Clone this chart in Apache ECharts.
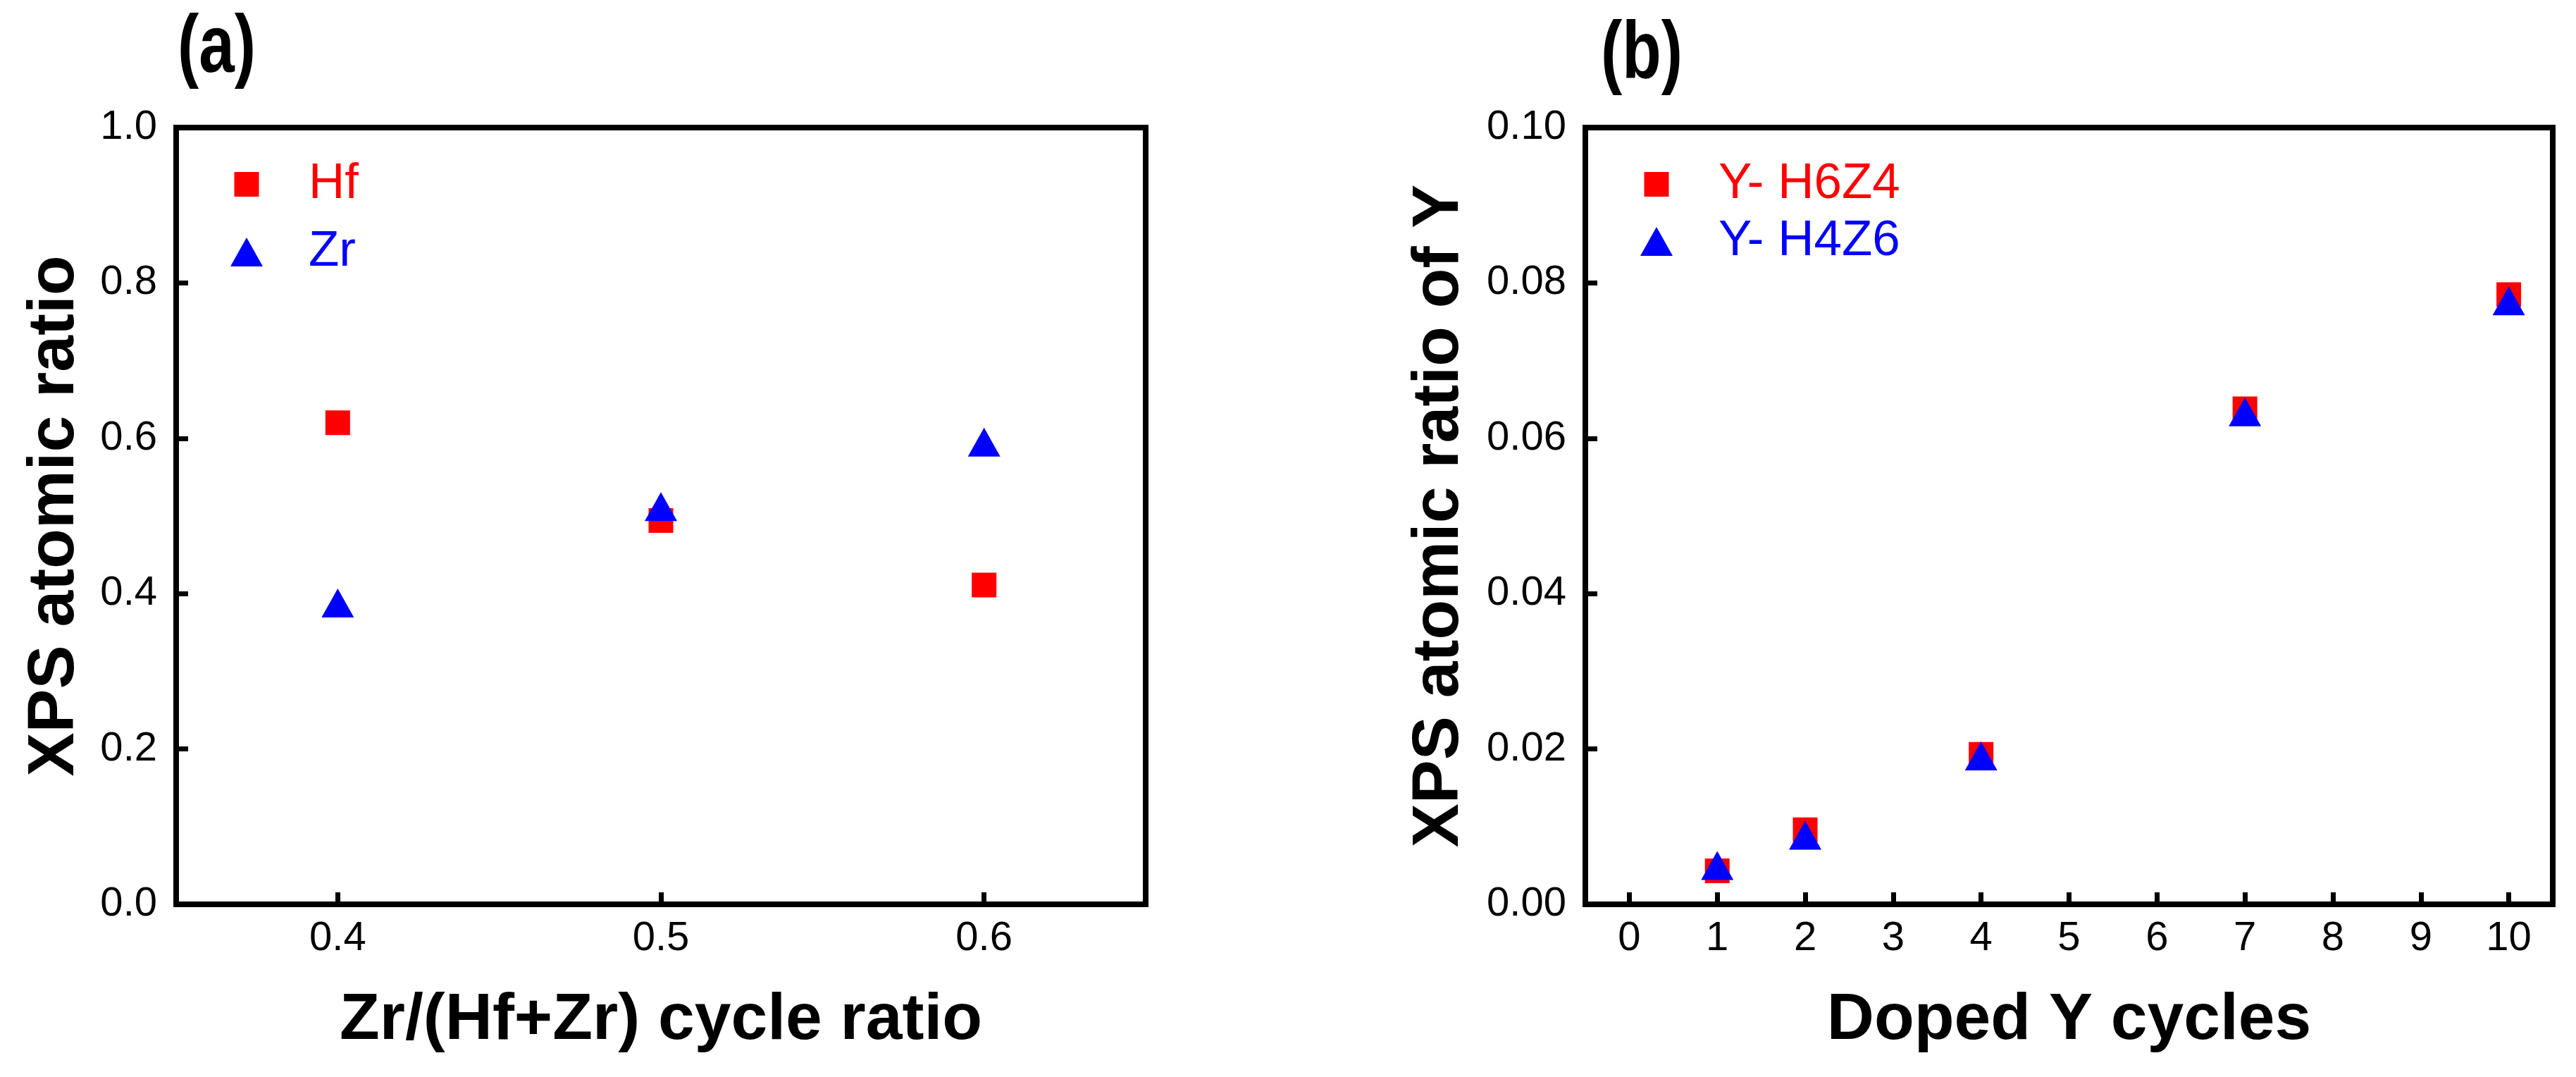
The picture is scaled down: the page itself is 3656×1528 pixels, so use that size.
<!DOCTYPE html>
<html>
<head>
<meta charset="utf-8">
<script src="https://cdn.jsdelivr.net/npm/echarts@6/dist/echarts.min.js"></script>
<style>
  html, body { margin: 0; padding: 0; background: #fff; }
  #chart { width: 3656px; height: 1528px; }
</style>
</head>
<body>
<div id="chart"></div>
<script>
// panel (a): Zr/(Hf+Zr) cycle ratio vs XPS atomic ratio
const zrCycleRatio = [0.4, 0.5, 0.6];
const hfAtomic = [0.620, 0.494, 0.411];
const zrAtomic = [0.388, 0.512, 0.595];
const ratioTicks = [0.4, 0.5, 0.6];

// panel (b): doped Y cycles vs XPS atomic ratio of Y
const dopedCycles = [1, 2, 4, 7, 10];
const yH6Z4 = [0.0043, 0.0096, 0.0193, 0.0638, 0.0785];
const yH4Z6 = [0.0050, 0.0089, 0.0191, 0.0634, 0.0777];
const cycleTicks = [0, 1, 2, 3, 4, 5, 6, 7, 8, 9, 10];

const FONT = '"Liberation Sans", Arial, sans-serif';
const RED = '#ff0000';
const BLUE = '#0000ff';
// square icon padded into the same box as the triangle
const SQUARE_ICON = 'path://M0,0M46,41M5.5,3h35v35h-35z';

function pairs(xs, ys) {
  return xs.map((x, i) => [x, ys[i]]);
}

function xAxisOf(grid, min, max, ticks, fmt, name) {
  return {
    gridIndex: grid,
    type: 'value',
    min: min,
    max: max,
    axisLine: { show: false, onZero: false },
    splitLine: { show: false },
    axisTick: {
      inside: true,
      length: 17,
      customValues: ticks,
      lineStyle: { width: 7, color: '#000' }
    },
    axisLabel: {
      customValues: ticks,
      formatter: fmt,
      fontSize: 58,
      fontFamily: FONT,
      color: '#000',
      margin: 20
    },
    name: name,
    nameLocation: 'middle',
    nameGap: 119,
    nameTextStyle: { fontSize: 93, fontWeight: 'bold', fontFamily: FONT, color: '#000' }
  };
}

function yAxisOf(grid, max, interval, digits, name, gap) {
  return {
    gridIndex: grid,
    type: 'value',
    min: 0,
    max: max,
    interval: interval,
    axisLine: { show: false, onZero: false },
    splitLine: { show: false },
    axisTick: {
      inside: true,
      length: 17,
      lineStyle: { width: 7, color: '#000' }
    },
    axisLabel: {
      formatter: v => v.toFixed(digits),
      fontSize: 58,
      fontFamily: FONT,
      color: '#000',
      margin: 27
    },
    name: name,
    nameLocation: 'middle',
    nameGap: gap,
    nameTextStyle: { fontSize: 93, fontWeight: 'bold', fontFamily: FONT, color: '#000' }
  };
}

function legendOf(left, gap, names) {
  return {
    orient: 'vertical',
    left: left,
    top: 226,
    padding: 0,
    itemWidth: 46,
    itemHeight: 41,
    itemGap: gap,
    selectedMode: false,
    textStyle: { fontSize: 71, fontFamily: FONT, padding: [0, 0, 0, 60] },
    data: [
      { name: names[0], icon: SQUARE_ICON, textStyle: { color: RED } },
      { name: names[1], icon: 'triangle', textStyle: { color: BLUE } }
    ]
  };
}

const chart = echarts.init(document.getElementById('chart'));

const option = {
  animation: false,
  backgroundColor: '#fff',
  grid: [
    { left: 250, top: 181, width: 1376, height: 1102, show: true, borderWidth: 8, borderColor: '#000' },
    { left: 2250, top: 181, width: 1373, height: 1102, show: true, borderWidth: 8, borderColor: '#000' }
  ],
  xAxis: [
    xAxisOf(0, 0.35, 0.65, ratioTicks, v => v.toFixed(1), 'Zr/(Hf+Zr) cycle ratio'),
    xAxisOf(1, -0.5, 10.5, cycleTicks, v => String(v), 'Doped Y cycles')
  ],
  yAxis: [
    yAxisOf(0, 1, 0.2, 1, 'XPS atomic ratio', 125),
    yAxisOf(1, 0.1, 0.02, 2, 'XPS atomic ratio of Y', 160)
  ],
  legend: [
    legendOf(327, 25, ['Hf', 'Zr']),
    legendOf(2328, 10, ['Y- H6Z4', 'Y- H4Z6'])
  ],
  graphic: [
    {
      type: 'text', x: 252, y: 13, scaleX: 0.79,
      style: { text: '(a)', font: 'bold 115px ' + FONT, fill: '#000' }
    },
    {
      type: 'text', x: 2272, y: 22, scaleX: 0.79,
      style: { text: '(b)', font: 'bold 115px ' + FONT, fill: '#000' }
    }
  ],
  series: [
    {
      type: 'scatter', name: 'Hf', xAxisIndex: 0, yAxisIndex: 0,
      symbol: 'rect', symbolSize: 35, itemStyle: { color: RED, opacity: 1 },
      data: pairs(zrCycleRatio, hfAtomic)
    },
    {
      type: 'scatter', name: 'Zr', xAxisIndex: 0, yAxisIndex: 0,
      symbol: 'triangle', symbolSize: [46, 41], itemStyle: { color: BLUE, opacity: 1 },
      data: pairs(zrCycleRatio, zrAtomic)
    },
    {
      type: 'scatter', name: 'Y- H6Z4', xAxisIndex: 1, yAxisIndex: 1,
      symbol: 'rect', symbolSize: 35, itemStyle: { color: RED, opacity: 1 },
      data: pairs(dopedCycles, yH6Z4)
    },
    {
      type: 'scatter', name: 'Y- H4Z6', xAxisIndex: 1, yAxisIndex: 1,
      symbol: 'triangle', symbolSize: [46, 41], itemStyle: { color: BLUE, opacity: 1 },
      data: pairs(dopedCycles, yH4Z6)
    }
  ]
};

chart.setOption(option);
</script>
</body>
</html>
